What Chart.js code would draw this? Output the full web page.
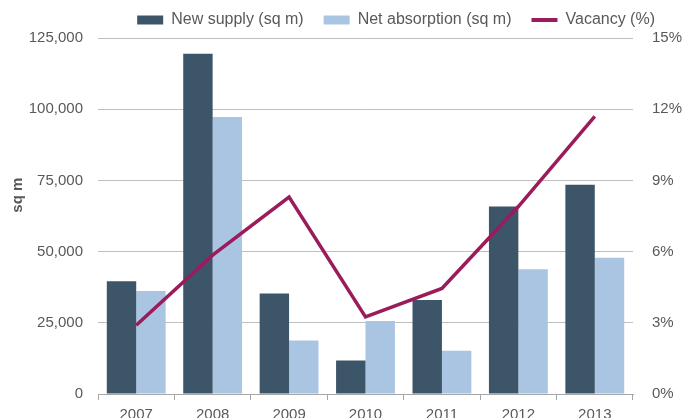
<!DOCTYPE html>
<html>
<head>
<meta charset="utf-8">
<script src="https://cdn.jsdelivr.net/npm/chart.js@4.4.1/dist/chart.umd.min.js"></script>
<style>
  html, body { margin: 0; padding: 0; background: #fff; overflow: hidden; }
  #wrap { width: 691px; height: 418px; overflow: hidden; }
</style>
</head>
<body>
<div id="wrap"><canvas id="chart" width="691" height="440"></canvas></div>
<script>
// Chart data
const years = ['2007', '2008', '2009', '2010', '2011', '2012', '2013'];
const newSupply = [39600, 119500, 35300, 11800, 33000, 65800, 73500];
const netAbsorption = [36200, 97300, 18800, 25600, 15200, 43800, 47800];
const vacancy = [2.9, 5.85, 8.3, 3.25, 4.45, 7.9, 11.7];

const FONT = '"Liberation Sans", Arial, sans-serif';
const GREY = '#595959';

const ctx = document.getElementById('chart').getContext('2d');

// the right padding only exists to pull the legend in; give the
// right axis that room back so its labels are not clipped
const widenRightAxis = {
  id: 'widenRightAxis',
  afterLayout(chart) {
    const s = chart.scales.y1;
    s.right = chart.width;
    s.width = s.right - s.left;
  }
};

new Chart(ctx, {
  data: {
    labels: years,
    datasets: [
      {
        type: 'bar',
        label: 'New supply (sq m)',
        data: newSupply,
        backgroundColor: '#3c5569',
        yAxisID: 'y',
        order: 2,
        categoryPercentage: 0.77,
        barPercentage: 1.0
      },
      {
        type: 'bar',
        label: 'Net absorption (sq m)',
        data: netAbsorption,
        backgroundColor: '#a9c5e2',
        yAxisID: 'y',
        order: 3,
        categoryPercentage: 0.77,
        barPercentage: 1.0
      },
      {
        type: 'line',
        label: 'Vacancy (%)',
        data: vacancy,
        borderColor: '#9b1c5b',
        backgroundColor: '#9b1c5b',
        borderWidth: 3.5,
        pointRadius: 0,
        tension: 0,
        yAxisID: 'y1',
        order: 1
      }
    ]
  },
  plugins: [widenRightAxis],
  options: {
    responsive: false,
    animation: false,
    layout: { padding: { top: -8, bottom: 0, left: 0, right: 16 } },
    plugins: {
      tooltip: { enabled: false },
      legend: {
        position: 'top',
        align: 'end',
        labels: {
          font: { family: FONT, size: 16 },
          color: GREY,
          usePointStyle: true,
          pointStyleWidth: 26,
          boxHeight: 9,
          padding: 20,
          sort: (a, b) => a.datasetIndex - b.datasetIndex,
          generateLabels: (chart) => {
            const items = Chart.defaults.plugins.legend.labels.generateLabels(chart);
            items.forEach(it => {
              if (it.datasetIndex === 2) {
                it.pointStyle = 'line';
                it.lineWidth = 4;
                it.strokeStyle = '#9b1c5b';
              } else {
                it.pointStyle = 'rect';
                it.lineWidth = 0;
              }
            });
            return items;
          }
        }
      }
    },
    scales: {
      x: {
        offset: true,
        grid: {
          offset: true,
          drawOnChartArea: false,
          drawTicks: true,
          tickLength: 6,
          color: '#a6a6a6'
        },
        border: { color: '#a6a6a6' },
        ticks: {
          font: { family: FONT, size: 15 },
          color: GREY,
          padding: 6
        },
        afterFit: (s) => { s.height = 46; }
      },
      y: {
        position: 'left',
        min: 0,
        max: 125000,
        ticks: {
          stepSize: 25000,
          font: { family: FONT, size: 15 },
          color: GREY,
          padding: 15,
          callback: (v) => v.toLocaleString('en-US')
        },
        grid: { color: '#bfbfbf', drawTicks: false },
        border: { display: false },
        title: {
          display: true,
          text: '          sq m',
          font: { family: FONT, size: 15, weight: 'bold' },
          color: GREY,
          padding: { top: 9, bottom: 3 }
        },
        afterFit: (s) => { s.width = 98; }
      },
      y1: {
        position: 'right',
        min: 0,
        max: 15,
        ticks: {
          stepSize: 3,
          font: { family: FONT, size: 15 },
          color: GREY,
          padding: 19,
          callback: (v) => v + '%'
        },
        grid: { drawOnChartArea: false, drawTicks: false },
        border: { display: false },
        afterFit: (s) => { s.width = 42; }
      }
    }
  }
});
</script>
</body>
</html>
